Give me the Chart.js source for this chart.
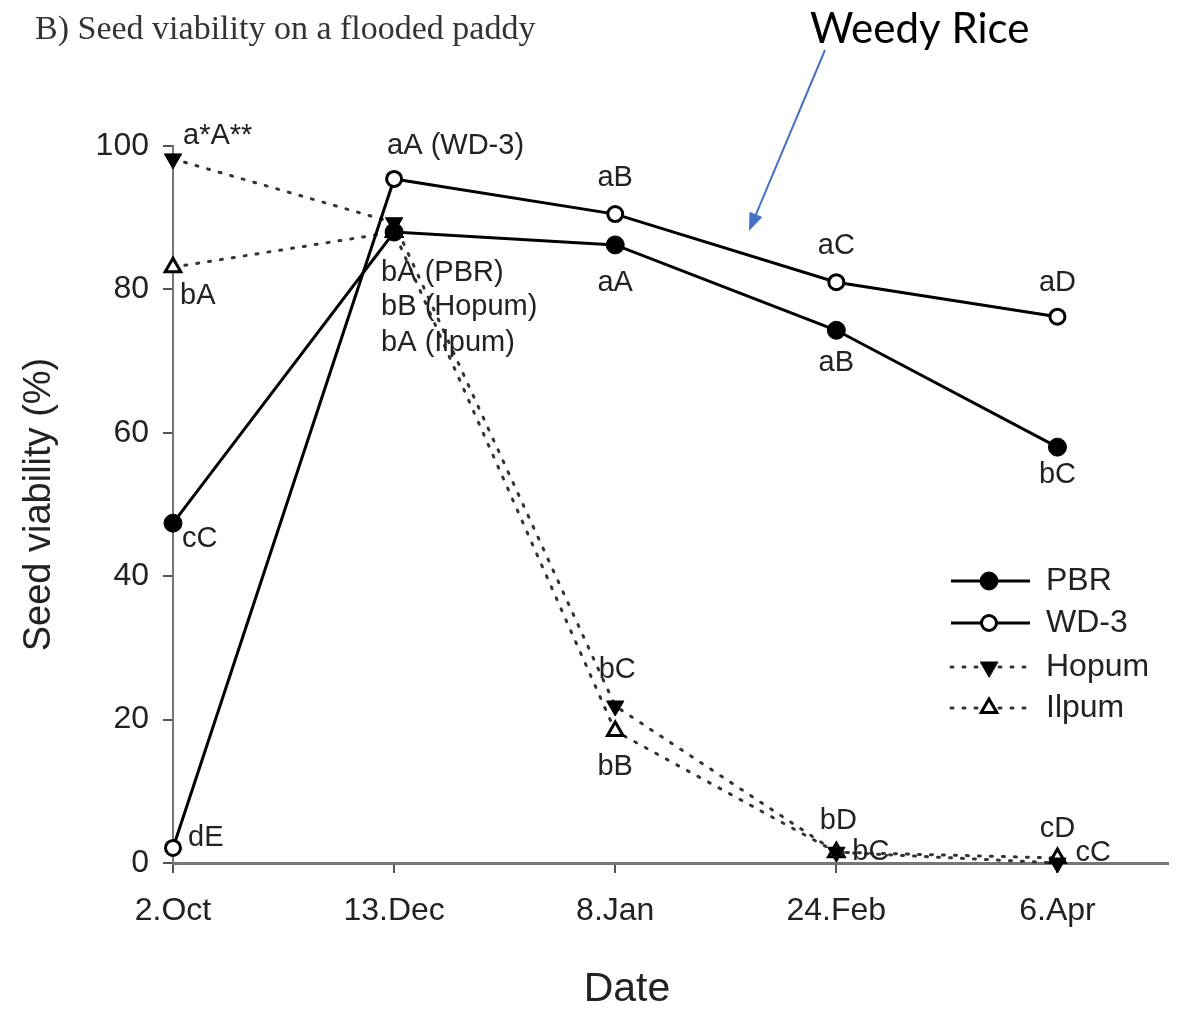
<!DOCTYPE html>
<html>
<head>
<meta charset="utf-8">
<script src="https://cdn.jsdelivr.net/npm/chart.js@4.4.1/dist/chart.umd.min.js"></script>
<style>
  body { margin: 0; background: #fff; }
  #wrap { width: 1184px; height: 1014px; }
</style>
</head>
<body>
<div id="wrap"><canvas id="myChart" width="1184" height="1014"></canvas></div>
<script>
// values
const dates = ['2.Oct', '13.Dec', '8.Jan', '24.Feb', '6.Apr']
const yTicks = [0, 20, 40, 60, 80, 100]
const pbr = [47.4, 88, 86.2, 74.3, 58]
const wd3 = [2.1, 95.4, 90.5, 81, 76.2]
const hopum = [98.2, 89.3, 21.9, 1.5, 0]
const ilpum = [83.1, 88, 18.4, 1.5, 0.7]

// significance letters next to each point
const pbrLetters = ['cC', 'bA (PBR)', 'aA', 'aB', 'bC']
const wd3Letters = ['dE', 'aA (WD-3)', 'aB', 'aC', 'aD']
const hopumLetters = ['a*A**', 'bB (Hopum)', 'bC', 'bD', 'cD']
const ilpumLetters = ['bA', 'bA (Ilpum)', 'bB', 'bC', 'cC']

const textColor = '#222'
const sans = '"Liberation Sans", Arial, sans-serif'

function pts(arr) {
  return arr.map((v, i) => ({ x: i, y: v }))
}

// where each letter sits relative to its point: dx, dy, align
const letterPlace = [
  [[9, 16, 'left'], [-13, 41, 'left'], [0, 38, 'center'], [0, 33, 'center'], [0, 28, 'center']],
  [[15, -10, 'left'], [-7, -33, 'left'], [0, -36, 'center'], [0, -36, 'center'], [0, -34, 'center']],
  [[10, -23, 'left'], [-13, 84, 'left'], [2, -36, 'center'], [2, -31, 'center'], [0, -34, 'center']],
  [[7, 29, 'left'], [-13, 111, 'left'], [0, 36, 'center'], [16, 0, 'left'], [18, -5, 'left']]
]
const allLetters = [pbrLetters, wd3Letters, hopumLetters, ilpumLetters]

const extras = {
  id: 'extras',
  afterDraw(chart) {
    const ctx = chart.ctx
    ctx.save()

    // letters
    ctx.fillStyle = textColor
    ctx.font = '29px ' + sans
    ctx.textBaseline = 'middle'
    allLetters.forEach((letters, di) => {
      const meta = chart.getDatasetMeta(di)
      letters.forEach((t, i) => {
        const p = meta.data[i]
        const pl = letterPlace[di][i]
        ctx.textAlign = pl[2]
        ctx.fillText(t, p.x + pl[0], p.y + pl[1])
      })
    })

    // x axis title (sits left of the plot centre in the original)
    ctx.font = '41px ' + sans
    ctx.textAlign = 'center'
    ctx.fillText('Date', 627, 990)

    // panel title
    ctx.fillStyle = '#333'
    ctx.font = '34px "Liberation Serif", "Times New Roman", serif'
    ctx.textAlign = 'left'
    ctx.fillText('B) Seed viability on a flooded paddy', 35, 30)

    // weedy rice note + arrow
    ctx.fillStyle = '#000'
    ctx.font = '42px Lato, "Open Sans", sans-serif'
    ctx.fillText('Weedy Rice', 810, 29)
    const x1 = 825, y1 = 50, x2 = 749, y2 = 231
    const ang = Math.atan2(y2 - y1, x2 - x1)
    ctx.strokeStyle = '#4472C4'
    ctx.fillStyle = '#4472C4'
    ctx.lineWidth = 2
    ctx.beginPath()
    ctx.moveTo(x1, y1)
    ctx.lineTo(x2 - 14 * Math.cos(ang), y2 - 14 * Math.sin(ang))
    ctx.stroke()
    ctx.beginPath()
    ctx.moveTo(x2, y2)
    ctx.lineTo(x2 - 18 * Math.cos(ang) + 7 * Math.sin(ang), y2 - 18 * Math.sin(ang) - 7 * Math.cos(ang))
    ctx.lineTo(x2 - 18 * Math.cos(ang) - 7 * Math.sin(ang), y2 - 18 * Math.sin(ang) + 7 * Math.cos(ang))
    ctx.closePath()
    ctx.fill()

    // legend
    const rows = [581, 623, 667, 708]
    chart.data.datasets.forEach((ds, i) => {
      const y = rows[i]
      ctx.strokeStyle = ds.borderColor
      ctx.lineWidth = ds.borderWidth
      ctx.lineCap = ds.borderCapStyle || 'butt'
      ctx.setLineDash(ds.borderDash || [])
      ctx.beginPath()
      ctx.moveTo(951, y)
      ctx.lineTo(1030, y)
      ctx.stroke()
      ctx.setLineDash([])
      ctx.fillStyle = ds.pointBackgroundColor
      ctx.strokeStyle = ds.pointBorderColor
      ctx.lineWidth = ds.pointBorderWidth
      Chart.helpers.drawPoint(ctx, {
        pointStyle: ds.pointStyle,
        radius: ds.pointRadius,
        rotation: ds.pointRotation || 0,
        borderWidth: ds.pointBorderWidth
      }, 989, y)
      ctx.fillStyle = textColor
      ctx.font = '32px ' + sans
      ctx.textAlign = 'left'
      ctx.fillText(ds.label, 1046, y)
    })
    ctx.restore()
  }
}

const ctx = document.getElementById('myChart').getContext('2d')
new Chart(ctx, {
  type: 'line',
  data: {
    datasets: [{
      label: 'PBR',
      data: pts(pbr),
      borderColor: '#000',
      borderWidth: 3,
      pointStyle: 'circle',
      pointRadius: 9,
      pointBackgroundColor: '#000',
      pointBorderColor: '#000',
      pointBorderWidth: 1
    }, {
      label: 'WD-3',
      data: pts(wd3),
      borderColor: '#000',
      borderWidth: 3,
      pointStyle: 'circle',
      pointRadius: 7.5,
      pointBackgroundColor: '#fff',
      pointBorderColor: '#000',
      pointBorderWidth: 3
    }, {
      label: 'Hopum',
      data: pts(hopum),
      borderColor: '#333',
      borderWidth: 3,
      borderDash: [2, 10],
      borderCapStyle: 'round',
      pointStyle: 'triangle',
      pointRotation: 180,
      pointRadius: 10,
      pointBackgroundColor: '#000',
      pointBorderColor: '#000',
      pointBorderWidth: 1
    }, {
      label: 'Ilpum',
      data: pts(ilpum),
      borderColor: '#333',
      borderWidth: 3,
      borderDash: [2, 10],
      borderCapStyle: 'round',
      pointStyle: 'triangle',
      pointRadius: 9,
      pointBackgroundColor: '#fff',
      pointBorderColor: '#000',
      pointBorderWidth: 3
    }]
  },
  options: {
    responsive: false,
    animation: false,
    clip: false,
    layout: { padding: { top: 146, right: 16, bottom: 0, left: 0 } },
    plugins: {
      legend: { display: false },
      tooltip: { enabled: false }
    },
    scales: {
      x: {
        type: 'linear',
        min: 0,
        max: 4.5,
        afterBuildTicks(s) {
          s.ticks = dates.map((d, i) => ({ value: i }))
        },
        afterFit(s) { s.height = 151 },
        ticks: {
          callback: v => dates[v],
          font: { size: 32, family: sans },
          color: textColor,
          padding: 19,
          maxRotation: 0
        },
        grid: { drawOnChartArea: false, tickLength: 10, color: '#555', lineWidth: 2 },
        border: { color: '#777', width: 3 }
      },
      y: {
        min: 0,
        max: 100,
        afterBuildTicks(s) {
          s.ticks = yTicks.map(v => ({ value: v }))
        },
        afterFit(s) { s.width = 173 },
        ticks: {
          font: { size: 32, family: sans },
          color: textColor,
          padding: 14
        },
        grid: { drawOnChartArea: false, tickLength: 10, color: '#555', lineWidth: 2 },
        border: { color: '#777', width: 2 },
        title: {
          display: true,
          text: 'Seed viability (%)',
          font: { size: 38, family: sans },
          color: textColor,
          padding: { top: 17, bottom: 0 }
        }
      }
    }
  },
  plugins: [extras]
})
</script>
</body>
</html>
